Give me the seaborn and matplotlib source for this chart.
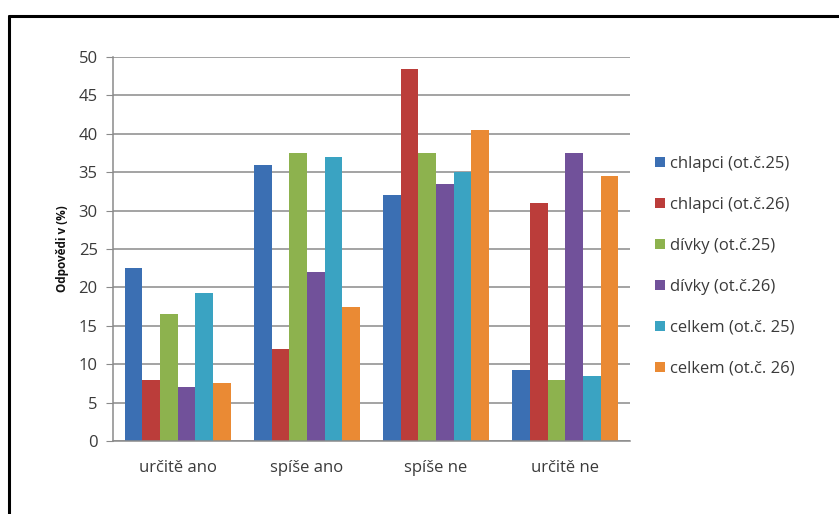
import matplotlib
matplotlib.use("Agg")
import matplotlib.pyplot as plt
from matplotlib.lines import Line2D
import seaborn as sns
import pandas as pd

categories = ["určitě ano", "spíše ano", "spíše ne", "určitě ne"]
series = ["chlapci (ot.č.25)", "chlapci (ot.č.26)", "dívky (ot.č.25)",
          "dívky (ot.č.26)", "celkem (ot.č. 25)", "celkem (ot.č. 26)"]
chlapci_25 = [22.5, 36.0, 32.0, 9.3]
chlapci_26 = [8.0, 12.0, 48.5, 31.0]
divky_25 = [16.5, 37.5, 37.5, 8.0]
divky_26 = [7.0, 22.0, 33.5, 37.5]
celkem_25 = [19.3, 37.0, 35.0, 8.5]
celkem_26 = [7.5, 17.5, 40.5, 34.5]
y_ticks = [0, 5, 10, 15, 20, 25, 30, 35, 40, 45, 50]

colors = ["#3b6fb3", "#bb3d3a", "#8db24e", "#71519a", "#3aa3c2", "#ea8a34"]

values = [chlapci_25, chlapci_26, divky_25, divky_26, celkem_25, celkem_26]
df = pd.DataFrame(
    [(c, s, v) for s, vals in zip(series, values) for c, v in zip(categories, vals)],
    columns=["kategorie", "skupina", "hodnota"],
)

sns.set_style("white")
plt.rcParams["font.family"] = ["Open Sans", "DejaVu Sans"]

fig = plt.figure(figsize=(8.39, 5.14), dpi=100)
ax = fig.add_axes([113 / 839, 1 - 441 / 514, (630 - 113) / 839, (441 - 57) / 514])

sns.barplot(data=df, x="kategorie", y="hodnota", hue="skupina",
            order=categories, hue_order=series, palette=colors,
            width=0.82, saturation=1, edgecolor="none", ax=ax, legend=True)

ax.set_ylim(0, 50)
ax.set_xlim(-0.5, 3.5)
ax.set_yticks(y_ticks)
ax.yaxis.grid(True, color="#8a8a8a", linewidth=1.1)
ax.set_axisbelow(True)
for side in ["top", "right"]:
    ax.spines[side].set_visible(False)
for side in ["left", "bottom"]:
    ax.spines[side].set_color("#8a8a8a")
    ax.spines[side].set_linewidth(1.1)
ax.tick_params(axis="y", left=True, length=5, color="#8a8a8a", labelsize=12,
               labelcolor="#3a3a3a", pad=6)
ax.tick_params(axis="x", bottom=False, labelsize=12, labelcolor="#3a3a3a", pad=10)
ax.set_xlabel("")
ax.set_ylabel("Odpovědi v (%)", fontsize=8.5, fontweight="bold", color="#111111",
              labelpad=7)

ax.legend(loc="center left", bbox_to_anchor=(1.02, 0.455), frameon=False,
          fontsize=12, labelspacing=1.5, handlelength=0.55, handleheight=0.55,
          handletextpad=0.3, labelcolor="#3a3a3a")

# chart frame along the top and left edges
fig.add_artist(Line2D([9 / 839, 9 / 839], [0, 1 - 16 / 514], transform=fig.transFigure,
                      color="black", linewidth=2.2))
fig.add_artist(Line2D([9 / 839, 1], [1 - 16 / 514, 1 - 16 / 514], transform=fig.transFigure,
                      color="black", linewidth=2.2))

fig.savefig("out.png", dpi=100, facecolor="white")
